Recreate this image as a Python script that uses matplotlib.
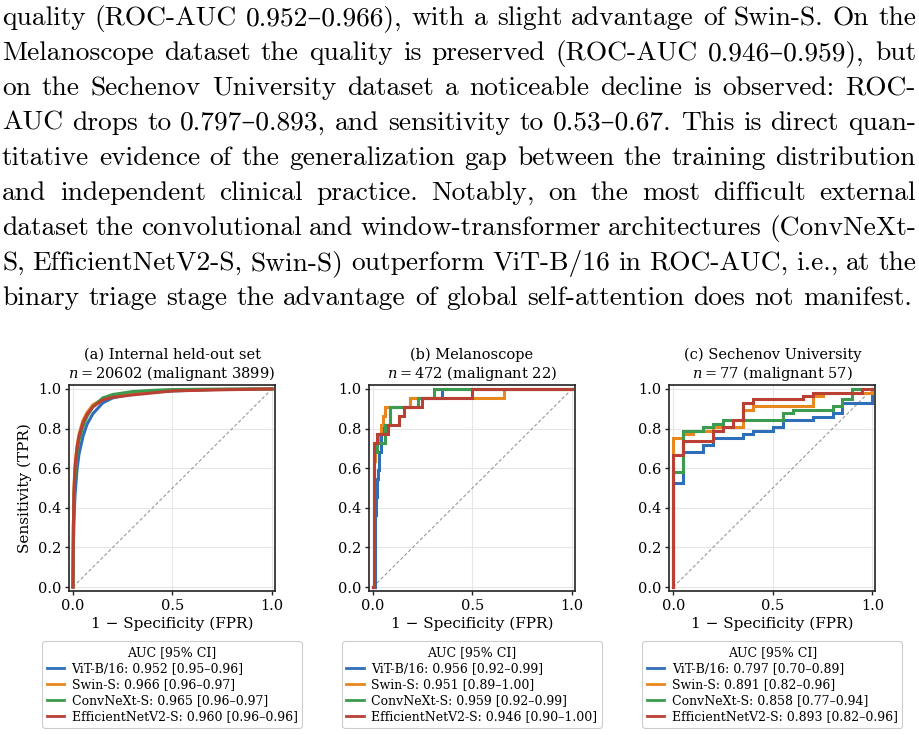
import matplotlib
matplotlib.use("Agg")
import matplotlib.pyplot as plt
import numpy as np
from matplotlib.lines import Line2D

W, H, DPI = 919, 735, 100

# ---------------- paragraph text ----------------
paragraph_lines = [
    "quality (ROC-AUC 0.952–0.966), with a slight advantage of Swin-S. On the",
    "Melanoscope dataset the quality is preserved (ROC-AUC 0.946–0.959), but",
    "on the Sechenov University dataset a noticeable decline is observed: ROC-",
    "AUC drops to 0.797–0.893, and sensitivity to 0.53–0.67. This is direct quan-",
    "titative evidence of the generalization gap between the training distribution",
    "and independent clinical practice. Notably, on the most difficult external",
    "dataset the convolutional and window-transformer architectures (ConvNeXt-",
    "S, EfficientNetV2-S, Swin-S) outperform ViT-B/16 in ROC-AUC, i.e., at the",
    "binary triage stage the advantage of global self-attention does not manifest.",
]

# ---------------- chart data ----------------
models = ["ViT-B/16", "Swin-S", "ConvNeXt-S", "EfficientNetV2-S"]
colors = ["#2f6eb8", "#e8871e", "#3c9b4e", "#bb4034"]

panel_titles = ["(a) Internal held-out set", "(b) Melanoscope", "(c) Sechenov University"]
panel_n = [20602, 472, 77]
panel_malignant = [3899, 22, 57]

auc_a = [0.952, 0.966, 0.965, 0.960]
ci_lo_a = [0.95, 0.96, 0.96, 0.96]
ci_hi_a = [0.96, 0.97, 0.97, 0.96]
auc_b = [0.956, 0.951, 0.959, 0.946]
ci_lo_b = [0.92, 0.89, 0.92, 0.90]
ci_hi_b = [0.99, 1.00, 0.99, 1.00]
auc_c = [0.797, 0.891, 0.858, 0.893]
ci_lo_c = [0.70, 0.82, 0.77, 0.82]
ci_hi_c = [0.89, 0.96, 0.94, 0.96]

# (a) smooth ROC curves on a shared FPR grid
fpr_a = [0, 0.002, 0.005, 0.01, 0.02, 0.03, 0.05, 0.07, 0.1, 0.15, 0.2, 0.3, 0.4, 0.5, 0.7, 1.0]
tpr_a_vit = [0, 0.20, 0.33, 0.46, 0.59, 0.67, 0.76, 0.82, 0.875, 0.93, 0.955, 0.975, 0.985, 0.99, 0.997, 1.0]
tpr_a_swin = [0, 0.30, 0.50, 0.61, 0.71, 0.77, 0.84, 0.88, 0.92, 0.95, 0.965, 0.978, 0.986, 0.992, 0.997, 1.0]
tpr_a_convnext = [0, 0.30, 0.45, 0.56, 0.67, 0.74, 0.81, 0.86, 0.91, 0.955, 0.972, 0.987, 0.993, 0.997, 0.999, 1.0]
tpr_a_effnet = [0, 0.30, 0.48, 0.60, 0.70, 0.76, 0.83, 0.87, 0.91, 0.945, 0.958, 0.970, 0.980, 0.990, 0.995, 1.0]

# (b) step ROC curves (steps-post: level holds from fpr[i] to fpr[i+1])
fpr_b_vit = [0, 0.008, 0.015, 0.02, 0.025, 0.03, 0.04, 0.053, 0.083, 0.187, 0.345, 1.0]
tpr_b_vit = [0, 0.364, 0.455, 0.545, 0.591, 0.682, 0.773, 0.818, 0.909, 0.955, 1.0, 1.0]
fpr_b_swin = [0, 0.003, 0.007, 0.012, 0.023, 0.04, 0.05, 0.062, 0.187, 0.657, 1.0]
tpr_b_swin = [0, 0.500, 0.636, 0.727, 0.773, 0.818, 0.864, 0.909, 0.955, 1.0, 1.0]
fpr_b_convnext = [0, 0.006, 0.018, 0.062, 0.083, 0.228, 0.307, 1.0]
tpr_b_convnext = [0, 0.682, 0.727, 0.818, 0.909, 0.955, 1.0, 1.0]
fpr_b_effnet = [0, 0.003, 0.018, 0.075, 0.13, 0.155, 0.245, 0.5, 1.0]
tpr_b_effnet = [0, 0.727, 0.773, 0.818, 0.864, 0.909, 0.955, 1.0, 1.0]

# (c) step ROC curves
fpr_c_vit = [0, 0, 0.05, 0.15, 0.2, 0.35, 0.4, 0.5, 0.55, 0.7, 0.8, 0.85, 1.0]
tpr_c_vit = [0, 0.526, 0.684, 0.719, 0.754, 0.772, 0.789, 0.807, 0.842, 0.860, 0.877, 0.930, 1.0]
fpr_c_swin = [0, 0, 0.05, 0.1, 0.2, 0.35, 0.4, 0.7, 0.75, 1.0]
tpr_c_swin = [0, 0.754, 0.772, 0.789, 0.807, 0.895, 0.912, 0.965, 0.982, 1.0]
fpr_c_convnext = [0, 0, 0.05, 0.15, 0.2, 0.25, 0.55, 0.6, 0.8, 0.85, 0.9, 1.0]
tpr_c_convnext = [0, 0.579, 0.789, 0.807, 0.825, 0.842, 0.877, 0.895, 0.912, 0.947, 1.0, 1.0]
fpr_c_effnet = [0, 0, 0.05, 0.2, 0.25, 0.3, 0.35, 0.4, 0.65, 0.7, 0.95, 1.0]
tpr_c_effnet = [0, 0.667, 0.737, 0.789, 0.807, 0.842, 0.930, 0.947, 0.965, 0.982, 1.0, 1.0]

ticks_x = [0.0, 0.5, 1.0]
ticks_y = [0.0, 0.2, 0.4, 0.6, 0.8, 1.0]

# ---------------- figure ----------------
plt.rcParams["font.family"] = "DejaVu Serif"
plt.rcParams["mathtext.fontset"] = "dejavuserif"

fig = plt.figure(figsize=(W / DPI, H / DPI), dpi=DPI)
fig.patch.set_facecolor("white")
renderer = fig.canvas.get_renderer()

para_family = ["cmr10", "DejaVu Serif"]


def text_width(s, fs):
    t = fig.text(0, 0, s, fontsize=fs, family=para_family)
    w = t.get_window_extent(renderer).width
    t.remove()
    return w


left_px, right_px = 2.0, 916.0
first_baseline, line_step = 25.0, 35.0
ref_fs = 20.0
last_words = paragraph_lines[-1].split(" ")
nat = sum(text_width(w, ref_fs) for w in last_words) + (len(last_words) - 1) * 0.3333 * ref_fs * DPI / 72
fs_par = ref_fs * (right_px - left_px - 1) / nat

for i, line in enumerate(paragraph_lines):
    words = line.split(" ")
    widths = [text_width(w, fs_par) for w in words]
    y = first_baseline + i * line_step
    if i == len(paragraph_lines) - 1:
        gap = 0.3333 * fs_par * DPI / 72
    else:
        gap = (right_px - left_px - sum(widths)) / (len(words) - 1)
    x = left_px
    for w, wd in zip(words, widths):
        fig.text(x / W, 1 - y / H, w, fontsize=fs_par, family=para_family,
                 ha="left", va="baseline")
        x += wd + gap

# axes geometry (pixels)
ax_lefts = [69, 369, 669.3]
ax_top, ax_size = 385, 206

panel_curves = [
    ([fpr_a] * 4, [tpr_a_vit, tpr_a_swin, tpr_a_convnext, tpr_a_effnet], None),
    ([fpr_b_vit, fpr_b_swin, fpr_b_convnext, fpr_b_effnet],
     [tpr_b_vit, tpr_b_swin, tpr_b_convnext, tpr_b_effnet], "steps-post"),
    ([fpr_c_vit, fpr_c_swin, fpr_c_convnext, fpr_c_effnet],
     [tpr_c_vit, tpr_c_swin, tpr_c_convnext, tpr_c_effnet], "steps-post"),
]
panel_auc = [auc_a, auc_b, auc_c]
panel_lo = [ci_lo_a, ci_lo_b, ci_lo_c]
panel_hi = [ci_hi_a, ci_hi_b, ci_hi_c]

for p in range(3):
    ax = fig.add_axes([ax_lefts[p] / W, 1 - (ax_top + ax_size) / H, ax_size / W, ax_size / H])
    ax.set_facecolor("white")
    ax.grid(True, color="#e6e6e6", lw=0.8)
    ax.set_axisbelow(True)
    ax.plot([0, 1], [0, 1], ls=(0, (3, 2)), color="#999999", lw=0.8, zorder=1)
    fprs, tprs, ds = panel_curves[p]
    handles, labels = [], []
    for k in range(4):
        kw = {"drawstyle": ds} if ds else {}
        ax.plot(fprs[k], tprs[k], color=colors[k], lw=2.2, solid_joinstyle="miter", zorder=2 + k, **kw)
        handles.append(Line2D([0], [0], color=colors[k], lw=2.0))
        labels.append(f"{models[k]}: {panel_auc[p][k]:.3f} [{panel_lo[p][k]:.2f}–{panel_hi[p][k]:.2f}]")
    ax.set_xlim(-0.02, 1.015)
    ax.set_ylim(-0.02, 1.02)
    ax.set_xticks(ticks_x)
    ax.set_yticks(ticks_y)
    ax.set_xticklabels([f"{t:.1f}" for t in ticks_x])
    ax.set_yticklabels([f"{t:.1f}" for t in ticks_y])
    ax.tick_params(direction="out", length=3.0, width=1.0, pad=2.5, labelsize=10.5, color="#222222")
    for s in ax.spines.values():
        s.set_color("#222222")
        s.set_linewidth(1.2)
    ax.set_title(f"{panel_titles[p]}\n$n = {panel_n[p]}$ (malignant {panel_malignant[p]})",
                 fontsize=10.5, pad=5, linespacing=1.15)
    ax.set_xlabel("1 − Specificity (FPR)", fontsize=11, labelpad=3)
    if p == 0:
        ax.set_ylabel("Sensitivity (TPR)", fontsize=11, labelpad=4)
    leg = ax.legend(handles, labels, title="AUC [95% CI]", loc="upper center",
                    bbox_to_anchor=(0.5, -0.245), fontsize=9, title_fontsize=9,
                    handlelength=1.4, handletextpad=0.6, labelspacing=0.25,
                    borderpad=0.35, borderaxespad=0, frameon=True, fancybox=True,
                    framealpha=1)
    leg.get_frame().set_edgecolor("#cccccc")
    leg.get_frame().set_linewidth(0.8)

fig.savefig("out.png", dpi=DPI, facecolor="white")
